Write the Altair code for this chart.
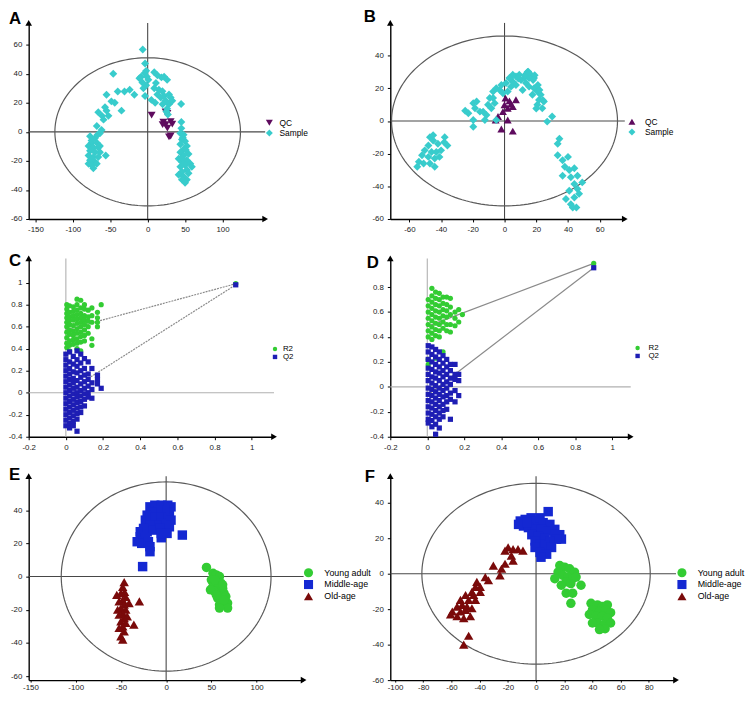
import altair as alt
import pandas as pd

FONT = "Liberation Sans"

# ---------------- Panel A (PCA scores, QC vs Sample) ----------------
A_QC = [(5.3, 11.5), (24, 13.7), (26.3, 12.6), (21, 6.6), (30.7, 7), (24, 4.9), (32.9, 5.3),
        (26.3, 2.6), (30.7, -2.9), (28.5, -3.5), (20, 5)]
A_SAMPLE = [
    (-6.6, 56.7), (-3.5, 47), (-2, 42), (-4, 40.6), (-8.8, 38), (-11, 36.9), (-1, 38), (0.9, 35.8),
    (-5.7, 30), (-3.5, 24.7), (-7, 34), (-2, 32),
    (8.8, 41), (13, 39), (18.4, 37.5), (22, 38), (26, 35.8), (11, 33.6), (8.8, 30), (15, 29),
    (19.7, 28), (13, 25.8), (22, 24.7), (28.5, 25.8), (30.7, 23.6), (17.5, 23.6), (24, 21.4),
    (28.5, 19), (26, 15.9), (44.7, 19.2), (32.9, 21.4), (5, 22), (10, 20), (20, 19), (27, 12), (25, 14),
    (-46, 40), (-55, 25.6), (-40, 27.8), (-31, 27.8), (-24, 29), (-17.8, 25.6), (-48.5, 21), (-44, 20),
    (-57, 17), (-66, 13.5), (-55, 14.6), (-35, 14.6), (-61, 11), (-52.4, 11), (-59, 8.4), (-68, 4),
    (-61.6, 1.3), (-63.8, -1),
    (-77, -3), (-70.4, -4.2), (-74.8, -7.5), (-68, -7.5), (-79, -9.7), (-72.6, -10.8), (-66, -10.8),
    (-77, -13), (-70.4, -14), (-63.8, -14), (-79, -16.3), (-72.6, -17.4), (-66, -17.4), (-77, -19.6),
    (-70.4, -20.8), (-74.8, -23), (-68, -21.9), (-72.6, -25), (-79, -21.9), (-63.8, -9.7), (-56, -16.3),
    (-75, -6), (-67, -2),
    (45, 6.8), (45, 2.4), (43.7, -0.9), (48, -2), (45.8, -5.3), (50, -6.4), (43.7, -8.6), (52.4, -9.7),
    (48, -12), (43.7, -14), (54.6, -15.2), (48, -16.3), (41.4, -18.5), (52.4, -19.6), (45.8, -20.8),
    (57, -21.9), (50, -23), (43.7, -24), (59, -24), (52.4, -26.3), (45.8, -27.4), (54.6, -28.5),
    (41.4, -29.6), (48, -30.7), (52.4, -32.9), (45.8, -32.9), (50, -35), (47, -4), (51, -12.5), (46, -18),
]

# ---------------- Panel B ----------------
B_QC = [(0.6, 14), (3.1, 12.3), (7.2, 13), (5.2, 8.8), (2, 7.8), (-1, 5.7), (-4.1, 2.7), (-5.6, 0.6),
        (2, 0.6), (-2, -4.9), (5.2, -6.2), (4.1, 10.3), (0, 9.9)]
B_SAMPLE = [
    (-24.8, 6.2), (-22.8, 4.7), (-19.7, 10.9), (-17.6, 11.9), (-18.6, 7.8), (-15.5, 5.7), (-19.7, 0.6),
    (-19.7, -3.5), (-12.4, 0.6), (-13.5, 5.7), (-10.4, 9.9), (-9.3, 14), (-7.2, 18), (-5.2, 20),
    (-8.3, 7.8), (-6.2, 10.9), (-3.1, 19), (-2, 22), (-1, 17), (1, 23.2), (3.1, 26.3), (5.2, 28.3),
    (7.2, 27.3), (9.3, 28.3), (12.4, 26.3), (14.5, 30), (16.6, 28.3), (18.6, 26.3), (13.5, 23.2),
    (15.5, 21), (18.6, 20), (20.7, 18), (22.8, 16), (21.7, 12.9), (24.8, 11.9), (23.8, 7.8), (20.7, 9.9),
    (17.6, 16), (11.4, 19), (7.2, 22), (4.1, 21), (2, 18), (5.2, 24), (10.4, 25), (30, 2.7), (26.9, -0.4),
    (-5.2, 0.6), (-7.2, 14), (-11.4, 3.7), (15.5, 26.3), (12.8, 28), (8.7, 26), (3.5, 26), (19, 28),
    (14.9, 30.2), (18, 25), (21, 22), (22, 19), (24.2, 12.7), (20, 7.6),
    (-47, -9.9), (-45, -12), (-42, -14), (-38, -13), (-36, -15), (-48, -15), (-50.3, -18), (-46, -19),
    (-43, -19), (-40, -18), (-52, -21), (-48, -22), (-44, -23), (-41, -22), (-54, -25), (-51, -26),
    (-47, -26), (-44, -28), (-55, -28), (-45, -8.8), (-37.7, -9.9),
    (34.6, -10.9), (33.5, -14), (33.5, -21), (36.6, -24), (40, -22), (38, -28), (40.8, -30), (44, -29),
    (36.6, -33.5), (41.8, -34.5), (46, -33.5), (49, -37.6), (44, -38.6), (40.8, -42.7), (46, -41.7),
    (38.7, -47.8), (44, -46.8), (41.8, -51), (47, -44.6), (45.3, -53), (43, -53),
]

# ---------------- Panel C (permutation test) : columns of (x, [y...]) ----------------
C_R2 = [
    (0.005, [0.80, 0.76, 0.72, 0.68, 0.64, 0.60, 0.55, 0.50, 0.45, 0.41]),
    (0.02, [0.79, 0.73, 0.69, 0.66, 0.62, 0.57, 0.53, 0.47, 0.43, 0.38]),
    (0.04, [0.78, 0.74, 0.70, 0.66, 0.61, 0.56, 0.52, 0.48, 0.44]),
    (0.06, [0.85, 0.80, 0.75, 0.71, 0.67, 0.63, 0.58, 0.54, 0.49, 0.45, 0.40]),
    (0.08, [0.84, 0.77, 0.72, 0.68, 0.64, 0.60, 0.55, 0.51, 0.46, 0.38]),
    (0.10, [0.80, 0.76, 0.70, 0.66, 0.62, 0.57, 0.52, 0.47]),
    (0.12, [0.75, 0.69, 0.65, 0.60, 0.54]),
    (0.14, [0.77, 0.70, 0.64, 0.49, 0.43]),
    (0.17, [0.73, 0.68, 0.64, 0.60]),
    (0.19, [0.80]),
    (0.914, [0.99]),
]
C_Q2 = [
    (0.0, [0.35, 0.30, 0.25, 0.20, 0.15, 0.10, 0.05, 0.0, -0.05, -0.10, -0.15, -0.20, -0.25, -0.30]),
    (0.02, [0.37, 0.28, 0.22, 0.17, 0.12, 0.07, 0.02, -0.03, -0.08, -0.13, -0.18, -0.23, -0.28, -0.32]),
    (0.04, [0.33, 0.26, 0.19, 0.13, 0.09, 0.04, -0.01, -0.06, -0.11, -0.16, -0.21, -0.26, -0.30]),
    (0.06, [0.38, 0.30, 0.24, 0.18, 0.11, 0.05, 0.0, -0.04, -0.09, -0.14, -0.19, -0.24, -0.35]),
    (0.08, [0.35, 0.27, 0.20, 0.14, 0.08, 0.02, -0.03, -0.08, -0.13, -0.18]),
    (0.10, [0.31, 0.22, 0.16, 0.10, 0.04, -0.01, -0.06, -0.12]),
    (0.12, [0.28, 0.17, 0.12, 0.06, 0.0, -0.04]),
    (0.14, [0.22, 0.09, 0.03, -0.05]),
    (0.17, [0.16, 0.12, 0.08]),
    (0.19, [0.04]),
    (0.914, [0.98]),
]
C_LINE_X = [0.0, 0.914]
C_R2_LINE_Y = [0.57, 0.99]
C_Q2_LINE_Y = [0.0, 0.98]

# ---------------- Panel D ----------------
D_R2 = [
    (0.005, [0.70, 0.65, 0.60, 0.55, 0.50, 0.45, 0.40, 0.22, 0.18]),
    (0.025, [0.79, 0.73, 0.68, 0.63, 0.58, 0.53, 0.48, 0.43, 0.38]),
    (0.045, [0.76, 0.71, 0.66, 0.61, 0.56, 0.51, 0.46, 0.41, 0.23]),
    (0.065, [0.75, 0.70, 0.65, 0.60, 0.55, 0.50, 0.45, 0.40]),
    (0.085, [0.72, 0.67, 0.62, 0.57, 0.52, 0.47, 0.28]),
    (0.105, [0.72, 0.66, 0.61, 0.56, 0.50, 0.45]),
    (0.125, [0.71, 0.64, 0.58, 0.50, 0.44]),
    (0.15, [0.60, 0.55, 0.49]),
    (0.17, [0.62, 0.52]),
    (0.19, [0.58]),
    (0.9, [0.99]),
]
D_Q2 = [
    (0.005, [0.33, 0.28, 0.22, 0.15, 0.10, 0.05, -0.01, -0.06, -0.11, -0.16, -0.21, -0.26, -0.29]),
    (0.025, [0.32, 0.26, 0.20, 0.14, 0.08, 0.03, -0.02, -0.07, -0.12, -0.17, -0.22, -0.27, -0.32]),
    (0.045, [0.30, 0.24, 0.18, 0.12, 0.07, 0.01, -0.04, -0.09, -0.14, -0.19, -0.24, -0.30, -0.38]),
    (0.065, [0.28, 0.22, 0.16, 0.11, 0.05, -0.01, -0.06, -0.11, -0.16, -0.21, -0.26, -0.33]),
    (0.085, [0.25, 0.19, 0.13, 0.08, 0.02, -0.03, -0.08, -0.14, -0.19, -0.24]),
    (0.105, [0.22, 0.16, 0.10, 0.04, -0.01, -0.07, -0.12, -0.18]),
    (0.125, [0.18, 0.13, 0.07, 0.02, -0.05, -0.10, -0.26]),
    (0.15, [0.18, 0.10, 0.06, -0.03, -0.12]),
    (0.17, [0.10, 0.05, -0.07]),
    (0.9, [0.955]),
]
D_LINE_X = [0.0, 0.9]
D_R2_LINE_Y = [0.485, 0.99]
D_Q2_LINE_Y = [-0.07, 0.955]

# ---------------- Panel E (PLS-DA, age groups) ----------------
E_YOUNG = [(44.6, 5.5), (51.8, 2), (55.4, 1), (59, 0), (50, -2), (55.4, -3), (60.7, -4), (51.8, -6),
           (57, -7), (62.5, -7), (59, -9), (64, -10), (53.6, -9), (60.7, -12), (66, -12), (57, -13),
           (62.5, -15), (59, -17), (68, -16), (68, -19), (59, -19), (49, -8), (53.6, -2), (62.5, -5),
           (55.4, -11), (64, -14)]
E_MIDDLE = [(-17.9, 42), (-12.5, 43), (-5.4, 43), (1.8, 43), (5.4, 42), (3.6, 39), (-1.8, 40), (-8.9, 40),
            (-16, 39), (-21, 37), (-23, 34), (-17.9, 35), (-12.5, 36), (-5.4, 36), (1.8, 35), (5.4, 34),
            (0, 31), (3.6, 30), (-5.4, 32), (-10.7, 31), (-17.9, 31), (-25, 29), (-28.6, 27), (-21, 27),
            (-14, 28), (-7, 29), (-28.6, 24), (-23, 23.4), (-32, 21), (-27, 20), (-19.6, 21), (-17.9, 18),
            (-17.9, 15), (-5.4, 23.4), (1, 26), (-5.4, 26), (17.9, 25), (-26, 6)]
E_OLD = [(-46.4, -3.4), (-48, -6.3), (-46, -9.3), (-50, -10), (-44.6, -12.3), (-48, -14), (-52, -15),
         (-46.4, -17), (-50, -19), (-44.6, -20), (-48, -22), (-52, -23), (-46.4, -25), (-50, -27),
         (-44.6, -28), (-48, -30), (-52, -31), (-46.4, -33), (-50, -36), (-48, -38), (-29.6, -15),
         (-35.7, -29), (-43, -24), (-53.6, -20), (-41, -16), (-54.6, -11)]

# ---------------- Panel F ----------------
F_YOUNG = [(16.8, 4.6), (20.3, 3.7), (23.8, 2.8), (27.3, 0.9), (15.6, 0.9), (19, -0.9), (22.6, -1.9),
           (26, -2.8), (28.4, -1.9), (21.4, -4.6), (17.9, -6.5), (24.7, -5.6), (31.9, -6.5), (21.4, -11),
           (26, -11), (24.7, -16.7), (13.3, -2.8),
           (39, -16.7), (43.6, -17.6), (47, -18.5), (50.6, -17.6), (40, -20.4), (44.8, -21.3), (49.4, -20.4),
           (52.9, -22), (37.8, -23), (42.4, -24), (47, -24), (50.6, -25), (43.6, -27.8), (48.3, -28.8),
           (40, -27.8), (52.9, -27.8), (49, -31), (45, -31.5)]
F_MIDDLE = [(-11.2, 29.7), (-7.7, 30.6), (-3.5, 31.5), (-0.7, 29.7), (2.8, 31.5), (8.6, 35), (5, 28.8),
            (9.8, 27.8), (-8.9, 26.9), (-5.4, 26), (-0.7, 25), (4, 25), (8.6, 24), (13.3, 25), (13.3, 22),
            (16.8, 22), (18, 19.5), (14.5, 19.5), (-3, 22), (1.6, 21), (6.3, 20), (9.8, 18.5), (-0.7, 18.5),
            (2.8, 16.7), (6.3, 15.8), (11, 14.8), (-0.7, 14.8), (2.8, 12), (7.5, 11), (3.5, 9.3),
            (-12.4, 27.8), (-6.5, 28.8)]
F_OLD = [(-19.8, 14.8), (-16.3, 13.9), (-9.3, 13), (-12.8, 13.9), (-22, 13), (-17.5, 10.2), (-16.3, 7.4),
         (-22, 5.6), (-30.3, 4.6), (-24.5, 2.8), (-25.6, -0.9), (-36, -1.9), (-33.8, -3.7), (-42, -4.6),
         (-43, -7.4), (-39.6, -7.4), (-45.5, -10.2), (-39.6, -10.2), (-50, -12), (-44.3, -12),
         (-53.6, -14.8), (-47.8, -14.8), (-43, -14.8), (-52.4, -17.6), (-56, -18.6), (-49, -18.6),
         (-59.4, -21.3), (-53.6, -21.3), (-50, -20.4), (-56, -24), (-51.3, -25), (-46.6, -24),
         (-45.5, -19.5), (-47.8, -35), (-51.3, -40), (-60.6, -23)]

QC_SAMPLE = ["QC", "Sample"]
PERM = ["R2", "Q2"]
AGES = ["Young adult", "Middle-age", "Old-age"]

LABEL_EXPR = "datum.value < 0 ? '-' + format(-datum.value, '~g') : format(datum.value, '~g')"


def pts_df(groups):
    rows = []
    for name, pts in groups:
        for x, y in pts:
            rows.append({"x": x, "y": y, "grp": name})
    return pd.DataFrame(rows)


def cols_to_pts(cols):
    return [(x, y) for x, ys in cols for y in ys]


def panel(letter, tdx, tdy, df, names, colors, shapes, size, xdom, ydom, xticks, yticks, w, h,
          leg_x, leg_y, leg_font, leg_sym, leg_off, leg_rowpad,
          ellipse=None, zero_color="#484848", lines_df=None, line_kw=None, xlab_pad=4, xtick=3):
    xs = alt.Scale(domain=xdom, nice=False, zero=False)
    ys = alt.Scale(domain=ydom, nice=False, zero=False)
    common = dict(grid=False, domainColor="black", domainWidth=1.4, tickColor="black",
                  tickWidth=1, labelFont=FONT, labelFontSize=8, labelColor="#222",
                  labelExpr=LABEL_EXPR, title=None, labelOverlap=False, labelFlush=False)
    xax = alt.Axis(values=xticks, labelPadding=xlab_pad, tickSize=xtick, **common)
    yax = alt.Axis(values=yticks, labelPadding=4, tickSize=3, **common)

    def X(f):
        return alt.X(f, type="quantitative", scale=xs, axis=xax)

    def Y(f):
        return alt.Y(f, type="quantitative", scale=ys, axis=yax)

    layers = []
    zero = pd.DataFrame({"v": [0.0]})
    layers.append(alt.Chart(zero).mark_rule(color=zero_color, strokeWidth=1.1).encode(x=X("v")))
    layers.append(alt.Chart(zero).mark_rule(color=zero_color, strokeWidth=1.1).encode(y=Y("v")))
    if ellipse:
        a, b = ellipse
        layers.append(
            alt.Chart(alt.sequence(0, 362, 2, as_="t"))
            .transform_calculate(ex=f"{a}*cos(datum.t*PI/180)", ey=f"{b}*sin(datum.t*PI/180)")
            .mark_line(color="#5a5a5a", strokeWidth=1.2)
            .encode(x=X("ex"), y=Y("ey"), order="t:Q")
        )
    if lines_df is not None:
        layers.append(
            alt.Chart(lines_df).mark_line(**line_kw).encode(x=X("x"), y=Y("y"), detail="grp:N")
        )
    leg = alt.Legend(orient="none", legendX=leg_x, legendY=leg_y, title=None, labelFont=FONT,
                     labelFontSize=leg_font, labelColor="black", symbolSize=leg_sym,
                     labelOffset=leg_off, rowPadding=leg_rowpad, padding=0,
                     symbolStrokeWidth=0, symbolOpacity=1)
    layers.append(
        alt.Chart(df).mark_point(filled=True, opacity=1, size=size).encode(
            x=X("x"), y=Y("y"),
            color=alt.Color("grp:N", scale=alt.Scale(domain=names, range=colors), legend=leg),
            shape=alt.Shape("grp:N", scale=alt.Scale(domain=names, range=shapes), legend=leg),
        )
    )
    arr_r = pd.DataFrame({"x": [xdom[1]], "y": [ydom[0]]})
    arr_u = pd.DataFrame({"x": [xdom[0]], "y": [ydom[1]]})
    layers.append(alt.Chart(arr_r).mark_point(shape="triangle-right", filled=True, opacity=1,
                                              color="black", size=45).encode(x=X("x"), y=Y("y")))
    layers.append(alt.Chart(arr_u).mark_point(shape="triangle-up", filled=True, opacity=1,
                                              color="black", size=45).encode(x=X("x"), y=Y("y")))
    title = alt.TitleParams(text=letter, anchor="start", frame="group", dx=tdx, dy=tdy, offset=0,
                            baseline="alphabetic", fontSize=17, font=FONT, fontWeight="bold",
                            color="black")
    return alt.layer(*layers).properties(width=w, height=h, title=title)


CYAN, PURPLE = "#38CCCC", "#5E0B5E"
GREEN, NAVY, BLUE, DARKRED = "#33CC33", "#1E1EB4", "#1428D2", "#7A0A0A"

pa = panel("A", -20, 21, pts_df([("QC", A_QC), ("Sample", A_SAMPLE)]), QC_SAMPLE, [PURPLE, CYAN],
           ["triangle-down", "diamond"], 65, [-159, 157], [-60, 75],
           [-150, -100, -50, 0, 50, 100], [-60, -40, -20, 0, 20, 40, 60], 240, 199,
           240, 97, 8.5, 50, 6, 1.5, ellipse=(124, 51))
pb = panel("B", -27, 19, pts_df([("QC", B_QC), ("Sample", B_SAMPLE)]), QC_SAMPLE, [PURPLE, CYAN],
           ["triangle-up", "diamond"], 65, [-72, 75.8], [-60, 60],
           [-60, -40, -20, 0, 20, 40, 60], [-60, -40, -20, 0, 20, 40], 238, 199,
           241, 96, 8.5, 50, 9, 1.5, ellipse=(71.2, 52))

c_lines = pd.DataFrame({"x": C_LINE_X + C_LINE_X, "y": C_R2_LINE_Y + C_Q2_LINE_Y,
                        "grp": ["R2"] * 2 + ["Q2"] * 2})
d_lines = pd.DataFrame({"x": D_LINE_X + D_LINE_X, "y": D_R2_LINE_Y + D_Q2_LINE_Y,
                        "grp": ["R2"] * 2 + ["Q2"] * 2})
pc = panel("C", -20, 28, pts_df([("R2", cols_to_pts(C_R2)), ("Q2", cols_to_pts(C_Q2))]), PERM,
           [GREEN, NAVY], ["circle", "square"], 28, [-0.2, 1.12], [-0.4, 1.22],
           [-0.2, 0, 0.2, 0.4, 0.6, 0.8, 1], [-0.4, -0.2, 0, 0.2, 0.4, 0.6, 0.8, 1], 249, 181,
           246, 88, 8, 20, 4, 0, zero_color="#b0b0b0", lines_df=c_lines,
           line_kw=dict(color="#8a8a8a", strokeWidth=1.2, strokeDash=[2, 1]))
pd_ = panel("D", -24, 30, pts_df([("R2", cols_to_pts(D_R2)), ("Q2", cols_to_pts(D_Q2))]), PERM,
            [GREEN, NAVY], ["circle", "square"], 28, [-0.2, 1.1], [-0.4, 1.03],
            [-0.2, 0, 0.2, 0.4, 0.6, 0.8, 1], [-0.4, -0.2, 0, 0.2, 0.4, 0.6, 0.8], 244, 181,
            247, 87, 8, 20, 7, 0, zero_color="#b0b0b0", lines_df=d_lines,
            line_kw=dict(color="#8a8a8a", strokeWidth=1.2))
pe = panel("E", -20, 24, pts_df([("Young adult", E_YOUNG), ("Middle-age", E_MIDDLE), ("Old-age", E_OLD)]),
           AGES, [GREEN, BLUE, DARKRED], ["circle", "square", "triangle-up"], 92,
           [-152, 152], [-62.4, 60.5], [-150, -100, -50, 0, 50, 100], [-60, -40, -20, 0, 20, 40],
           279, 207, 279, 93, 9, 85, 11, 2, ellipse=(116, 57), xlab_pad=2, xtick=2)
pf = panel("F", -26, 26, pts_df([("Young adult", F_YOUNG), ("Middle-age", F_MIDDLE), ("Old-age", F_OLD)]),
           AGES, [GREEN, BLUE, DARKRED], ["circle", "square", "triangle-up"], 92,
           [-103.4, 99.3], [-60, 55], [-100, -80, -60, -40, -20, 0, 20, 40, 60, 80],
           [-60, -40, -20, 0, 20, 40], 290, 207, 291, 93, 9, 85, 11, 2, ellipse=(81, 51),
           xlab_pad=2, xtick=2)

chart = (
    alt.concat(pa, pb, pc, pd_, pe, pf, columns=2, spacing={"row": 40, "column": 88}, bounds="flush")
    .resolve_scale(color="independent", shape="independent")
    .properties(padding={"top": -5, "left": 0, "right": 0, "bottom": 0})
    .configure_view(stroke=None)
)

chart.save("out.html", embed_options={"renderer": "svg", "actions": False})
